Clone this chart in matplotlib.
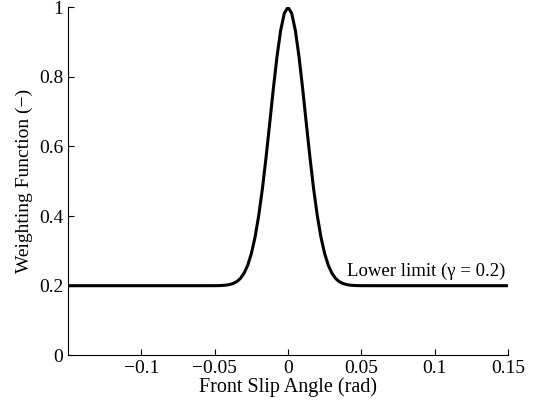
import numpy as np
import matplotlib.pyplot as plt

plt.rcParams['font.family'] = ['Liberation Serif', 'DejaVu Serif']

# front slip angle (rad) and weighting value
alpha = [-0.15, -0.1, -0.06, -0.05, -0.0475, -0.045, -0.0425, -0.04, -0.0375, -0.035,
         -0.0325, -0.03, -0.0275, -0.025, -0.0225, -0.02, -0.0175, -0.015, -0.0125,
         -0.01, -0.0075, -0.005, -0.0025, 0.0,
         0.0025, 0.005, 0.0075, 0.01, 0.0125, 0.015, 0.0175, 0.02, 0.0225, 0.025,
         0.0275, 0.03, 0.0325, 0.035, 0.0375, 0.04, 0.0425, 0.045, 0.0475, 0.05,
         0.06, 0.1, 0.15]
weight = [0.2, 0.2, 0.2, 0.2001, 0.2003, 0.2007, 0.2015, 0.2032, 0.2062, 0.2115,
          0.2207, 0.2355, 0.2585, 0.292, 0.3388, 0.4004, 0.4773, 0.5673, 0.6658,
          0.766, 0.8585, 0.9337, 0.9829, 1.0,
          0.9829, 0.9337, 0.8585, 0.766, 0.6658, 0.5673, 0.4773, 0.4004, 0.3388, 0.292,
          0.2585, 0.2355, 0.2207, 0.2115, 0.2062, 0.2032, 0.2015, 0.2007, 0.2003, 0.2001,
          0.2, 0.2, 0.2]

xticks = [-0.1, -0.05, 0, 0.05, 0.1, 0.15]
xlabels = ['\u22120.1', '\u22120.05', '0', '0.05', '0.1', '0.15']
yticks = [0, 0.2, 0.4, 0.6, 0.8, 1]
ylabels = ['0', '0.2', '0.4', '0.6', '0.8', '1']

fig = plt.figure(figsize=(5.41, 4.04), dpi=100)
ax = fig.add_axes([0.1257, 0.1205, 0.8133, 0.8615])
ax.plot(alpha, weight, color='black', linewidth=2.2)

ax.set_xlim(-0.15, 0.15)
ax.set_ylim(0, 1)
ax.set_xticks(xticks)
ax.set_xticklabels(xlabels)
ax.set_yticks(yticks)
ax.set_yticklabels(ylabels)
ax.tick_params(direction='in', length=4, labelsize=14, width=0.8)
ax.spines['top'].set_visible(False)
ax.spines['right'].set_visible(False)

ax.set_xlabel('Front Slip Angle (rad)', fontsize=14.5, labelpad=0)
ax.set_ylabel('Weighting Function (\u2212)', fontsize=14, labelpad=4)
ax.text(0.0405, 0.228, 'Lower limit (\u03b3 = 0.2)', fontsize=13.5)

plt.savefig('out.png', dpi=100)
